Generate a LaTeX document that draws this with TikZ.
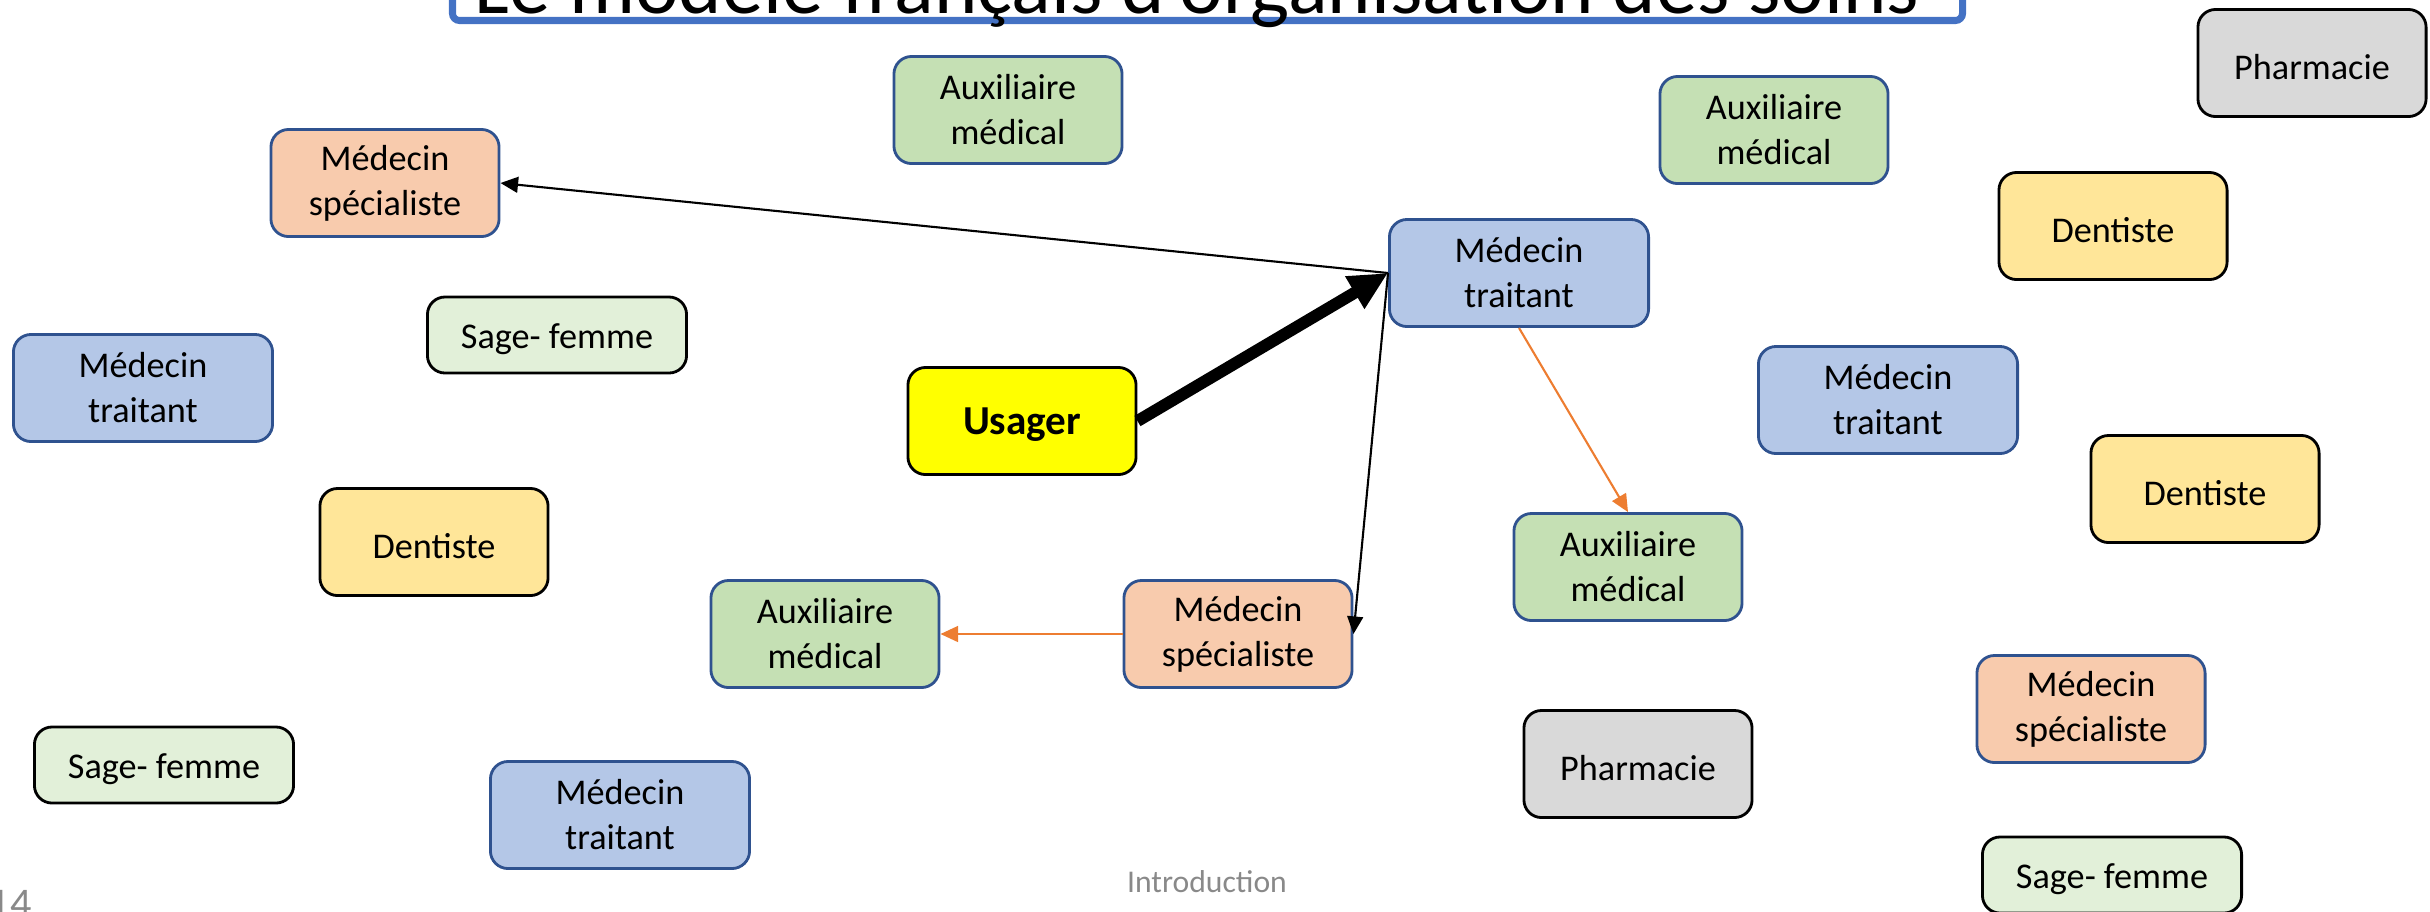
\documentclass[tikz,border=0pt]{standalone}
\usepackage{fontspec}
\setmainfont{Carlito}
\usetikzlibrary{arrows.meta}
\definecolor{edgeblue}{HTML}{2F528F}
\definecolor{titleblue}{HTML}{4472C4}
\definecolor{mtfill}{HTML}{B4C7E7}
\definecolor{msfill}{HTML}{F8CBAD}
\definecolor{amfill}{HTML}{C5E0B4}
\definecolor{sffill}{HTML}{E2F0D9}
\definecolor{dtfill}{HTML}{FFE699}
\definecolor{phfill}{HTML}{D9D9D9}
\definecolor{usfill}{HTML}{FFFF00}
\definecolor{orangeline}{HTML}{ED7D31}
\definecolor{footgray}{HTML}{898989}

\begin{document}
\begin{tikzpicture}[
  x=0.01cm, y=-0.01cm,
  box/.style={draw, rounded corners=5pt, line width=0.8pt, inner sep=0pt, minimum width=2.28cm, minimum height=1.07cm, align=center, font=\fontsize{10.3}{12.8}\selectfont, execute at begin node={\rule{0pt}{9.5pt}}},
  widebox/.style={box, minimum width=2.59cm},
  medtrait/.style={widebox, fill=mtfill, draw=edgeblue},
  medspec/.style={box, fill=msfill, draw=edgeblue},
  auxmed/.style={box, fill=amfill, draw=edgeblue},
  sagefem/.style={widebox, minimum height=0.76cm, fill=sffill},
  dentiste/.style={box, fill=dtfill},
  pharma/.style={box, fill=phfill},
  usagerbox/.style={box, fill=usfill, font=\fontsize{11.7}{14}\selectfont\bfseries},
  arr/.style={-{Triangle[length=5pt, width=4.5pt]}, line width=0.6pt},
  oarr/.style={arr, draw=orangeline, fill=orangeline},
  bigarr/.style={-{Triangle[length=11pt, width=10pt]}, line width=3.4pt}
]
\useasboundingbox (0,0) rectangle (2430,911);
\clip (0,0) rectangle (2430,911);

\draw[titleblue, line width=2pt, rounded corners=2pt] (452.5,-80) rectangle (1962.5,20.5);
\node[anchor=base, font=\fontsize{23.5}{28}\selectfont] (title) at (1197,13) {Le modèle français d'organisation des soins};

\node[auxmed] (aux1) at (1008,110) {Auxiliaire\\médical};
\node[auxmed] (aux2) at (1774,130) {Auxiliaire\\médical};
\node[pharma] (pharm1) at (2312,63) {Pharmacie};
\node[medspec] (spec1) at (385,183) {Médecin\\spécialiste};
\node[dentiste] (dent1) at (2113,226) {Dentiste};
\node[medtrait] (mt1) at (1519,273) {Médecin\\traitant};
\node[sagefem] (sf1) at (557,335) {Sage- femme};
\node[medtrait] (mt2) at (143,388) {Médecin\\traitant};
\node[usagerbox] (usager) at (1022,421) {Usager};
\node[medtrait] (mt3) at (1888,400) {Médecin\\traitant};
\node[dentiste] (dent2) at (2205,489) {Dentiste};
\node[dentiste] (dent3) at (434,542) {Dentiste};
\node[auxmed] (aux3) at (1628,567) {Auxiliaire\\médical};
\node[auxmed] (aux4) at (825,634) {Auxiliaire\\médical};
\node[medspec] (spec2) at (1238,634) {Médecin\\spécialiste};
\node[medspec] (spec3) at (2091,709) {Médecin\\spécialiste};
\node[pharma] (pharm2) at (1638,764) {Pharmacie};
\node[sagefem] (sf2) at (164,765) {Sage- femme};
\node[medtrait] (mt4) at (620,815) {Médecin\\traitant};
\node[sagefem] (sf3) at (2112,875) {Sage- femme};

\node[anchor=base, font=\fontsize{9}{11}\selectfont, text=footgray] (footer) at (1207,892) {Introduction};
\node[anchor=base east, font=\fontsize{12}{14}\selectfont, text=footgray] (pagenum) at (44,917) {14};

\draw[bigarr] (usager.east) -- (mt1.west);
\draw[arr] (mt1.west) -- (spec1.east);
\draw[arr] (mt1.west) -- (spec2.east);
\draw[oarr] (mt1.south) -- (aux3.north);
\draw[oarr] (spec2.west) -- (aux4.east);
\end{tikzpicture}
\end{document}
